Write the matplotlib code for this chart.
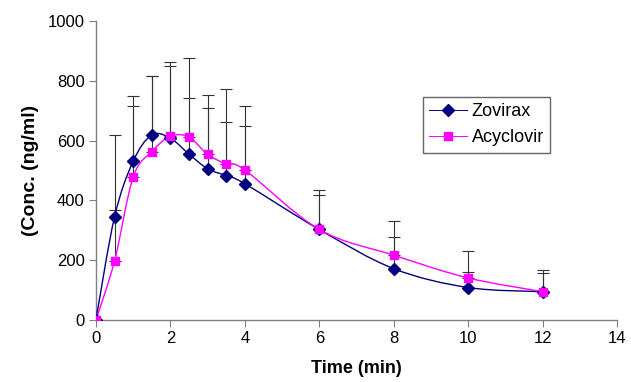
import matplotlib
matplotlib.use("Agg")
import matplotlib.pyplot as plt
import numpy as np
from matplotlib.path import Path
from matplotlib.patches import PathPatch

plt.rcParams["font.family"] = ["Liberation Sans", "DejaVu Sans"]

time = [0, 0.5, 1, 1.5, 2, 2.5, 3, 3.5, 4, 6, 8, 10, 12]
zovirax = [0, 345, 531, 619, 608, 555, 506, 483, 456, 303, 172, 109, 95]
acyclovir = [0, 198, 478, 563, 615, 612, 554, 522, 502, 303, 217, 141, 95]
zovirax_top = [0, 619, 748, 816, 863, 877, 753, 772, 715, 436, 330, 230, 166]
acyclovir_top = [0, 368, 715, 816, 851, 743, 710, 661, 648, 418, 277, 161, 158]

NAVY = "#000080"
MAGENTA = "#ff00ff"
GRAY = "#808080"


def smooth_path(x, y):
    # Excel-style smoothed line: Catmull-Rom through the points as cubic Beziers
    pts = np.column_stack([x, y]).astype(float)
    verts = [pts[0]]
    codes = [Path.MOVETO]
    n = len(pts)
    for i in range(n - 1):
        p0 = pts[i - 1] if i > 0 else pts[i]
        p1, p2 = pts[i], pts[i + 1]
        p3 = pts[i + 2] if i + 2 < n else pts[i + 1]
        verts += [p1 + (p2 - p0) / 6, p2 - (p3 - p1) / 6, p2]
        codes += [Path.CURVE4] * 3
    return Path(verts, codes)


fig = plt.figure(figsize=(6.31, 3.82), dpi=100)
ax = fig.add_axes([0.152, 0.162, 0.826, 0.783])

for y, top in ((zovirax, zovirax_top), (acyclovir, acyclovir_top)):
    err = np.array(top) - np.array(y)
    ax.errorbar(time, y, yerr=[np.zeros(len(y)), err], fmt="none",
                ecolor="#333333", elinewidth=0.8, capsize=4, capthick=0.8, zorder=2)

for y, c, m, ms, lab in ((zovirax, NAVY, "D", 6.5, "Zovirax"),
                         (acyclovir, MAGENTA, "s", 6, "Acyclovir")):
    ax.add_patch(PathPatch(smooth_path(time, y), fill=False, edgecolor=c, lw=1.0, zorder=3))
    ax.plot(time, y, linestyle="none", marker=m, ms=ms, color=c, zorder=4)
    ax.plot([], [], color=c, lw=0.7, marker=m, ms=ms, label=lab)

ax.set_xlim(0, 14)
ax.set_ylim(0, 1000)
ax.set_xticks(range(0, 15, 2))
ax.set_yticks(range(0, 1001, 200))
for s in ("top", "right"):
    ax.spines[s].set_visible(False)
for s in ("left", "bottom"):
    ax.spines[s].set_color(GRAY)
    ax.spines[s].set_linewidth(1.0)
ax.tick_params(direction="out", length=5, color=GRAY, labelsize=12, pad=3)
ax.set_xlabel("Time (min)", fontsize=13, fontweight="bold", labelpad=10)
ax.set_ylabel("(Conc. (ng/ml)", fontsize=14, fontweight="bold", labelpad=6)

leg = ax.legend(loc="upper left", bbox_to_anchor=(0.67, 0.746), bbox_transform=fig.transFigure,
                fontsize=13, frameon=True, fancybox=False, handlelength=2.1,
                borderpad=0.35, labelspacing=0.5, handletextpad=0.25, borderaxespad=0)
leg.get_frame().set_edgecolor("#404040")
leg.get_frame().set_linewidth(1.0)

fig.savefig("out.png", dpi=100)
